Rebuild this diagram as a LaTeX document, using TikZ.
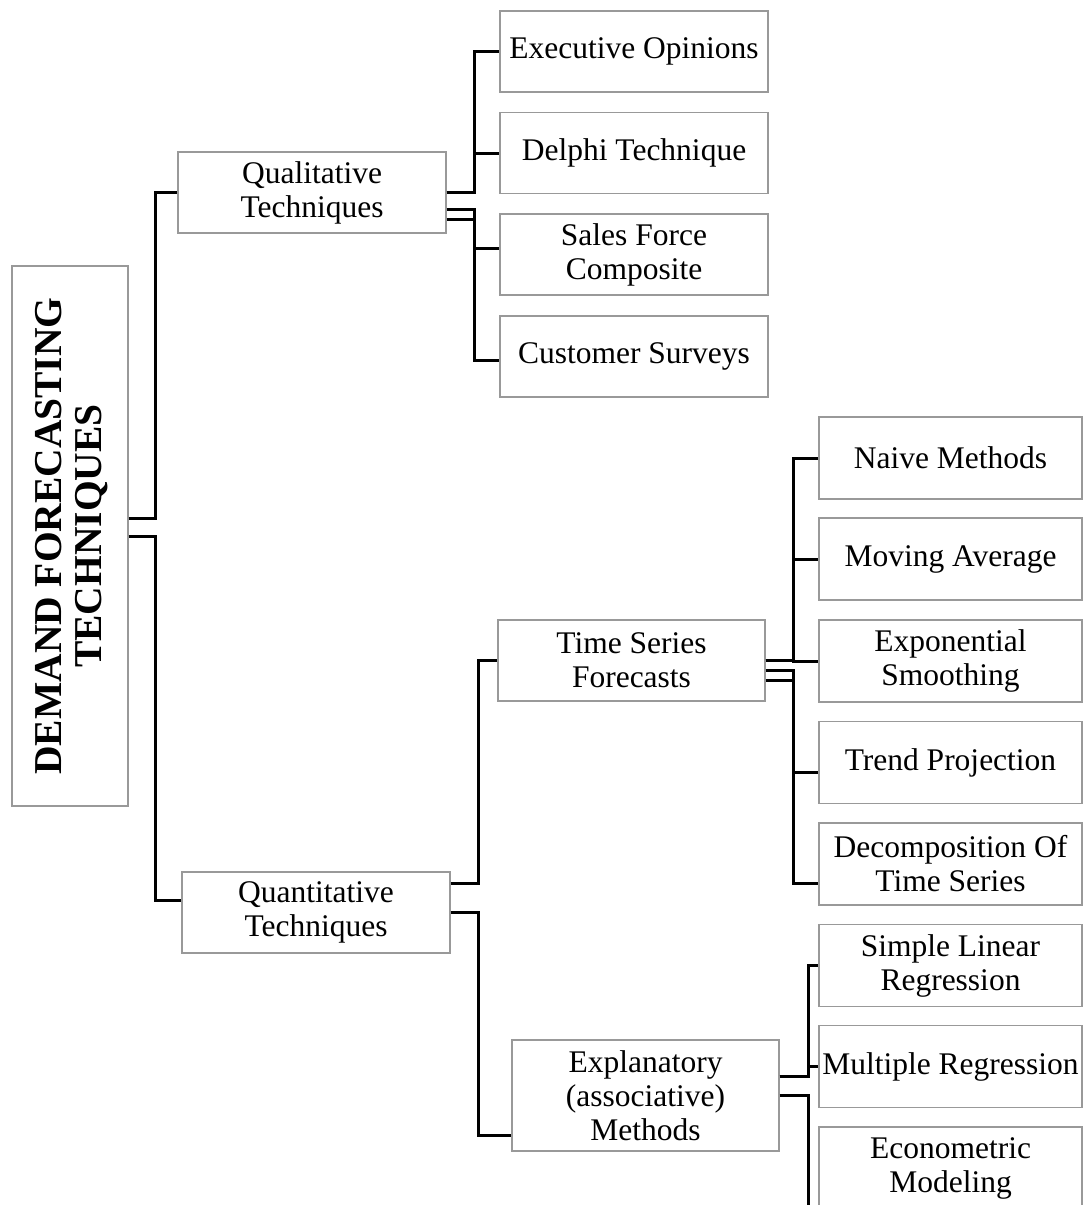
\documentclass[tikz,border=0pt]{standalone}
\usepackage{fontspec}
\setmainfont{Liberation Serif}
\begin{document}
\begin{tikzpicture}[x=1pt,y=-1pt,
  box/.style={draw=black!40, line width=1.3pt, inner sep=0pt, align=center,
    font=\fontsize{31.5}{34}\selectfont},
  wide/.style={box, minimum width=268pt, minimum height=81pt},
  leaf/.style={box, minimum width=263pt, minimum height=82pt},
  roottext/.style={inner sep=0pt, align=center, rotate=90,
    font=\fontsize{39.5}{40}\selectfont\bfseries},
  conn/.style={draw=black, line width=3pt, line join=miter}]
\useasboundingbox (0,0) rectangle (1083,1205);
\clip (0,0) rectangle (1083,1205);

% root
\node[box, minimum width=116pt, minimum height=540pt] (root) at (70,536) {};
\node[roottext] at ([xshift=2pt]root.center) {DEMAND FORECASTING\\TECHNIQUES};

% first level
\node[wide] (qual) at (312,192.5) {Qualitative\\Techniques};
\node[wide] (quant) at (316,912.5) {Quantitative\\Techniques};

% second level
\node[wide, minimum width=267pt] (ts) at (631.5,660.5) {Time Series\\Forecasts};
\node[box, minimum width=267pt, minimum height=111pt] (expl) at (645.5,1095.5)
  {Explanatory\\(associative)\\Methods};

% qualitative techniques
\node[wide] (exec) at (634,51.5) {Executive Opinions};
\node[wide] (delphi) at (634,153) {Delphi Technique};
\node[wide] (sales) at (634,254.5) {Sales Force\\Composite};
\node[wide] (cust) at (634,356.5) {Customer Surveys};

% time series forecasts
\node[leaf] (naive) at (950.5,458) {Naive Methods};
\node[leaf] (mavg) at (950.5,559) {Moving Average};
\node[leaf] (expo) at (950.5,661) {Exponential\\Smoothing};
\node[leaf] (trend) at (950.5,762.5) {Trend Projection};
\node[leaf] (decomp) at (950.5,864) {Decomposition Of\\Time Series};

% explanatory methods
\node[leaf] (slr) at (950.5,965.5) {Simple Linear\\Regression};
\node[leaf] (mreg) at (950.5,1066.5) {Multiple Regression};
\node[leaf] (econ) at (950.5,1168) {Econometric\\Modeling};

% bus lines
\coordinate (busR) at (155,0);
\coordinate (busQ) at (474,0);
\coordinate (busN) at (478,0);
\coordinate (busT) at (793,0);
\coordinate (busE) at (808,0);

% root connectors
\coordinate (r1) at ([yshift=18pt]root.east);
\coordinate (r2) at (root.east);
\draw[conn] (r1) -- (r1 -| busR) |- (qual.west);
\draw[conn] (r2) -- (r2 -| busR) |- ([yshift=12pt]quant.west);

% qualitative connectors
\coordinate (q1) at (qual.east);
\coordinate (q2) at ([yshift=-16.5pt]qual.east);
\coordinate (q3) at ([yshift=-26.5pt]qual.east);
\draw[conn] (q1) -- (q1 -| busQ) |- (exec.west);
\draw[conn] (q1) -- (q1 -| busQ) |- (delphi.west);
\draw[conn] (q2) -- (q2 -| busQ) |- ([yshift=6.5pt]sales.west);
\draw[conn] (q3) -- (q3 -| busQ) |- ([yshift=-3.5pt]cust.west);

% quantitative connectors
\coordinate (n1) at ([yshift=29.5pt]quant.east);
\coordinate (n2) at (quant.east);
\draw[conn] (n1) -- (n1 -| busN) |- (ts.west);
\draw[conn] (n2) -- (n2 -| busN) |- ([yshift=-40pt]expl.west);

% time series connectors
\coordinate (t1) at (ts.east);
\coordinate (t2) at ([yshift=-9.5pt]ts.east);
\coordinate (t3) at ([yshift=-19.5pt]ts.east);
\draw[conn] (t1) -- (t1 -| busT) |- (naive.west);
\draw[conn] (t1) -- (t1 -| busT) |- (mavg.west);
\draw[conn] (t1) -- (t1 -| busT) |- (expo.west);
\draw[conn] (t2) -- (t2 -| busT) |- ([yshift=-9.5pt]trend.west);
\draw[conn] (t3) -- (t3 -| busT) |- ([yshift=-19pt]decomp.west);

% explanatory connectors
\coordinate (e1) at ([yshift=19.5pt]expl.east);
\coordinate (e2) at (expl.east);
\coordinate (eb) at (808,1230);
\draw[conn] (e1) -- (e1 -| busE) |- (slr.west);
\draw[conn] (e1) -- (e1 -| busE) |- (mreg.west);
\draw[conn] (e2) -- (e2 -| busE) -- (eb);
\end{tikzpicture}
\end{document}
